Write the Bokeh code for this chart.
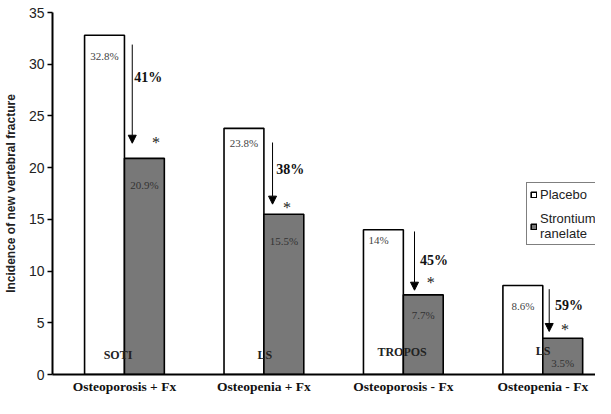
from bokeh.plotting import figure
from bokeh.models import (ColumnDataSource, Range1d, FixedTicker, Arrow, NormalHead,
                          Legend, LegendItem)
from bokeh.core.properties import value
from bokeh.embed import file_html
from bokeh.resources import INLINE

# ---- data ----
groups = ["Osteoporosis + Fx", "Osteopenia + Fx", "Osteoporosis - Fx", "Osteopenia - Fx"]
studies = ["SOTI", "LS", "TROPOS", "LS"]
placebo = [32.8, 23.8, 14.0, 8.6]
strontium = [20.9, 15.5, 7.7, 3.5]
reductions = ["41%", "38%", "45%", "59%"]
placebo_labels = ["32.8%", "23.8%", "14%", "8.6%"]
strontium_labels = ["20.9%", "15.5%", "7.7%", "3.5%"]
y_ticks = [0, 5, 10, 15, 20, 25, 30, 35]

# ---- annotation positions (data units) ----
pos = [1, 2, 3, 4]
bw = 0.286
arrow_x = [1.056, 2.062, 3.080, 4.046]
arrow_top = [31.9, 22.43, 13.83, 8.25]
arrow_tip = [22.36, 16.47, 8.15, 4.16]
red_x = [1.07, 2.088, 3.12, 4.088]
red_y = [28.71, 19.82, 11.05, 6.67]
star_x = [1.226, 2.166, 3.196, 4.159]
star_y = [22.72, 16.44, 9.19, 4.64]
plab_y = [30.84, 22.43, 12.96, 6.67]
plab_dx = [0, 0, -0.035, 0]
slab_y = [18.37, 12.86, 5.80, 1.16]
study_x = [0.954, 2.007, 2.991, 4.003]
study_y = [1.93, 1.84, 2.19, 2.32]

p = figure(width=595, height=398, output_backend="svg", toolbar_location=None,
           x_range=Range1d(0.484, 4.378), y_range=Range1d(0, 35),
           min_border_left=44, min_border_right=0, min_border_top=12, min_border_bottom=24)
p.outline_line_color = None
p.xgrid.grid_line_color = None
p.ygrid.grid_line_color = None
p.background_fill_color = "white"

src = ColumnDataSource(dict(
    xp=[x - bw / 2 for x in pos], xs=[x + bw / 2 for x in pos],
    placebo=placebo, strontium=strontium))
r1 = p.vbar(x="xp", top="placebo", width=bw, source=src, fill_color="white",
            line_color="black", line_width=1.6)
r2 = p.vbar(x="xs", top="strontium", width=bw, source=src, fill_color="#787878",
            line_color="black", line_width=1.6)

# axes
p.xaxis.ticker = FixedTicker(ticks=pos)
p.xaxis.major_label_overrides = {i + 1: g for i, g in enumerate(groups)}
p.xaxis.major_tick_line_color = None
p.xaxis.major_tick_out = 0
p.xaxis.major_tick_in = 0
p.xaxis.minor_tick_line_color = None
p.xaxis.axis_line_width = 2
p.xaxis.axis_line_color = "black"
p.xaxis.major_label_text_font = "Liberation Serif"
p.xaxis.major_label_text_font_style = "bold"
p.xaxis.major_label_text_font_size = "13.5px"
p.xaxis.major_label_text_color = "#111111"
p.xaxis.major_label_standoff = 4

p.yaxis.ticker = FixedTicker(ticks=y_ticks)
p.yaxis.minor_tick_line_color = None
p.yaxis.major_tick_in = 0
p.yaxis.major_tick_out = 5
p.yaxis.major_tick_line_width = 1.5
p.yaxis.axis_line_width = 2
p.yaxis.axis_line_color = "black"
p.yaxis.major_label_text_font = "Liberation Sans"
p.yaxis.major_label_text_font_size = "14px"
p.yaxis.major_label_text_color = "#222222"
p.yaxis.major_label_standoff = 3
p.yaxis.axis_label = "Incidence of new vertebral fracture"
p.yaxis.axis_label_text_font = "Liberation Sans"
p.yaxis.axis_label_text_font_style = "bold"
p.yaxis.axis_label_text_font_size = "12px"
p.yaxis.axis_label_text_color = "#222222"
p.yaxis.axis_label_standoff = 8

# arrows
asrc = ColumnDataSource(dict(x0=arrow_x, y0=arrow_top, x1=arrow_x, y1=arrow_tip))
p.add_layout(Arrow(x_start="x0", y_start="y0", x_end="x1", y_end="y1", source=asrc,
                   line_color="black", line_width=1,
                   end=NormalHead(size=8, fill_color="black", line_color="black", line_width=1)))

# texts
p.text(x=red_x, y=red_y, text=reductions, text_font=value("Liberation Serif"),
       text_font_style="bold", text_font_size="14px", text_align="left",
       text_baseline="middle", text_color="#111111")
p.text(x=star_x, y=star_y, text=["*"] * 4, text_font=value("Liberation Serif"),
       text_font_size="16px", text_align="center", text_baseline="middle",
       y_offset=3, text_color="#222222")
p.text(x=[x - bw / 2 + d for x, d in zip(pos, plab_dx)], y=plab_y, text=placebo_labels,
       text_font=value("Liberation Serif"), text_font_size="11px",
       text_align="center", text_baseline="middle", text_color="#444444")
p.text(x=[x + bw / 2 for x in pos], y=slab_y, text=strontium_labels,
       text_font=value("Liberation Serif"), text_font_size="11px",
       text_align="center", text_baseline="middle", text_color="#333333")
p.text(x=study_x, y=study_y, text=studies, text_font=value("Liberation Serif"),
       text_font_style="bold", text_font_size="12px", text_align="center",
       text_baseline="middle", text_color="#222222")

legend = Legend(items=[LegendItem(label="Placebo", renderers=[r1]),
                       LegendItem(label="Strontium\nranelate", renderers=[r2])],
                location=(474, 129))
legend.label_text_font = "Liberation Sans"
legend.label_text_font_size = "13px"
legend.label_text_color = "#222222"
legend.glyph_width = 7
legend.glyph_height = 7
legend.label_height = 16
legend.label_standoff = 3
legend.spacing = 9
legend.padding = 3
legend.margin = 0
legend.border_line_color = "black"
legend.border_line_width = 1.5
legend.background_fill_alpha = 1
p.add_layout(legend)

open("out.html", "w").write(file_html(p, INLINE))
